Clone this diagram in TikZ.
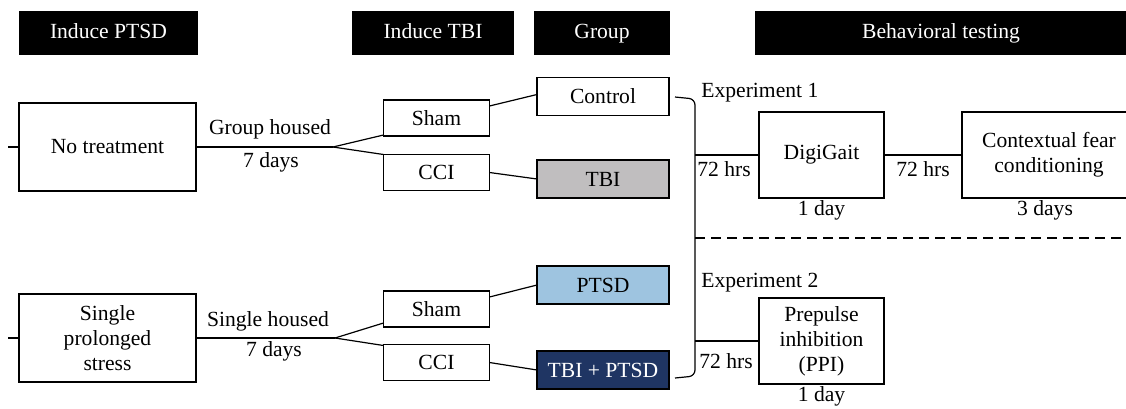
\documentclass[tikz,border=0pt]{standalone}
\usepackage{fontspec}
\setmainfont{Liberation Serif}
\usetikzlibrary{positioning}

\definecolor{tbigray}{RGB}{192,190,191}
\definecolor{ptsdblue}{RGB}{158,196,224}
\definecolor{bothnavy}{RGB}{31,53,99}

\begin{document}
\begin{tikzpicture}[
  x=0.5pt, y=-0.5pt,
  every node/.style={font=\fontsize{10.8}{12.5}\selectfont},
  hdr/.style={fill=black, text=white, minimum height=22pt, inner sep=0pt,
    text height=7.6pt, text depth=2.4pt},
  box/.style={draw, line width=0.6pt, align=center, inner sep=1pt, outer sep=0pt},
  armbox/.style={box, minimum width=88.5pt, minimum height=44pt},
  surgbox/.style={box, minimum width=53pt, minimum height=18pt},
  grpbox/.style={box, minimum width=66pt, minimum height=19pt},
  testbox/.style={box, minimum width=62.5pt, minimum height=43pt},
  lbl/.style={inner sep=1pt},
  link/.style={line width=0.6pt},
]
  \useasboundingbox (0,0) rectangle (1126,408);

  % column headers
  \node[hdr, minimum width=89.5pt] (hptsd) at (108.5,33) {Induce PTSD};
  \node[hdr, minimum width=81pt] (htbi) at (433,33) {Induce TBI};
  \node[hdr, minimum width=68pt] (hgrp) at (602,33) {Group};
  \node[hdr, minimum width=186pt] (hbeh) at (941,33) {Behavioral testing};

  % PTSD induction arms
  \node[armbox] (notreat) at (107.5,147) {No treatment};
  \node[armbox] (sps) at (107.5,338) {Single\\prolonged\\stress};

  % surgery
  \node[surgbox] (sham1) at (436.5,118) {Sham};
  \node[surgbox] (cci1) at (436.5,172.5) {CCI};
  \node[surgbox] (sham2) at (436.5,309) {Sham};
  \node[surgbox] (cci2) at (436.5,362.5) {CCI};

  % resulting groups
  \node[grpbox] (ctrl) at (603,96.5) {Control};
  \node[grpbox, fill=tbigray] (tbi) at (603,179) {TBI};
  \node[grpbox, fill=ptsdblue] (ptsd) at (603,285) {PTSD};
  \node[grpbox, fill=bothnavy, text=white] (both) at (603,370) {TBI + PTSD};

  % tests
  \node[testbox] (gait) at (821.5,155) {DigiGait};
  \node[testbox, minimum width=87pt, right=39pt of gait] (fear) {Contextual fear\\conditioning};
  \node[testbox] (ppi) at (821.5,341) {Prepulse\\inhibition\\(PPI)};

  \node[lbl, below=0pt of gait] (gaitdur) {1 day};
  \node[lbl, below=0pt of fear.south west, xshift=41.5pt, anchor=north] (feardur) {3 days};
  \node[lbl, below=0pt of ppi] (ppidur) {1 day};

  % housing
  \coordinate (fork1) at (333,147);
  \coordinate (fork2) at (335,338);
  \node[lbl] (grouph) at (270,129) {Group housed};
  \node[lbl] (groupd) at (271,162) {7 days};
  \node[lbl] (singleh) at (268,321) {Single housed};
  \node[lbl] (singled) at (274,351) {7 days};

  \draw[link] (8,147) -- (notreat.west);
  \draw[link] (8,338) -- (sps.west);
  \draw[link] (notreat.east) -- (fork1);
  \draw[link] (fork1) -- ([yshift=0.5pt]sham1.south west);
  \draw[link] (fork1) -- (cci1.north west);
  \draw[link] (sps.east) -- (fork2);
  \draw[link] (fork2) -- ([yshift=2pt]sham2.south west);
  \draw[link] (fork2) -- ([yshift=-0.5pt]cci2.north west);

  \draw[link] ([yshift=6pt]sham1.east) -- ([yshift=1pt]ctrl.west);
  \draw[link] (cci1.east) -- (tbi.west);
  \draw[link] ([yshift=6pt]sham2.east) -- (ptsd.west);
  \draw[link] (cci2.east) -- (both.west);

  % bracket joining the four groups
  \coordinate (brtop) at (675,97);
  \coordinate (brbot) at (675,378);
  \coordinate (spine) at (695,0);
  \draw[link, rounded corners=3pt] (brtop) -- (695,99) -- (695,376) -- (brbot);

  \draw[link] (spine |- gait.west) -- (gait.west);
  \draw[link] (gait.east) -- (fear.west);
  \draw[link] (spine |- ppi.west) -- (ppi.west);
  \draw[link, dashed, dash pattern=on 5pt off 3pt] (695,238) -- (1126,238);

  \node[lbl, anchor=west] (exp1) at (699,93) {Experiment 1};
  \node[lbl, anchor=west] (exp2) at (699,283) {Experiment 2};
  \node[lbl] (wait1) at (724,169) {72 hrs};
  \node[lbl] (wait2) at (923,169) {72 hrs};
  \node[lbl] (wait3) at (726,361) {72 hrs};
\end{tikzpicture}
\end{document}
